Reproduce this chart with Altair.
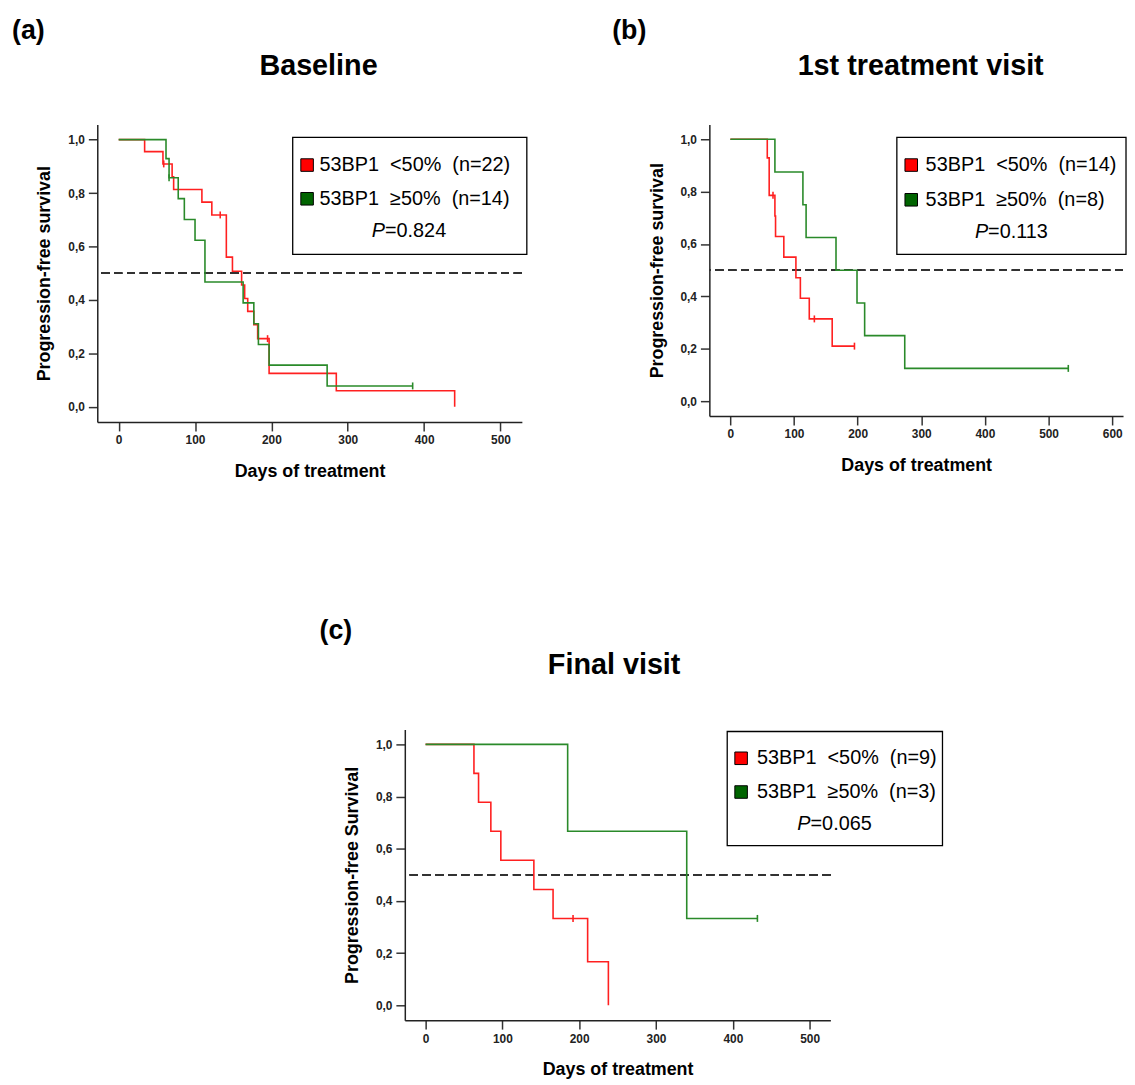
import altair as alt
import pandas as pd

FONT = "Liberation Sans"
LINE_RED = "#ff2020"
LINE_GREEN = "#2a8a2a"
SQ_RED = "#ff0000"
SQ_GREEN = "#006400"

# ---------------- data ----------------
# (a) Baseline
a_labels = ["53BP1\u00a0\u00a0<50%\u00a0\u00a0(n=22)", "53BP1\u00a0\u00a0\u226550%\u00a0\u00a0(n=14)"]
a_red_t = [0, 34, 58, 70, 72, 109, 122, 141, 149, 161, 165, 169, 177, 182, 197, 285, 440]
a_red_s = [1.0, 0.955, 0.909, 0.861, 0.813, 0.766, 0.718, 0.56, 0.507, 0.456, 0.405, 0.357, 0.307, 0.255, 0.125, 0.06, 0.0]
a_red_ct = [59, 133, 195]
a_red_cs = [0.909, 0.718, 0.255]
a_grn_t = [0, 62, 66, 78, 86, 100, 113, 163, 177, 183, 197, 273, 385]
a_grn_s = [1.0, 0.929, 0.857, 0.779, 0.701, 0.623, 0.467, 0.389, 0.311, 0.233, 0.156, 0.078, 0.078]
a_grn_ct = [66, 385]
a_grn_cs = [0.857, 0.078]
a_p = "=0.824"

# (b) 1st treatment visit
b_labels = ["53BP1\u00a0\u00a0<50%\u00a0\u00a0(n=14)", "53BP1\u00a0\u00a0\u226550%\u00a0\u00a0(n=8)"]
b_red_t = [0, 58, 61, 70, 71, 84, 103, 110, 124, 160, 195]
b_red_s = [1.0, 0.929, 0.786, 0.707, 0.629, 0.550, 0.471, 0.393, 0.314, 0.210, 0.210]
b_red_ct = [67, 132, 195]
b_red_cs = [0.786, 0.314, 0.210]
b_grn_t = [0, 70, 114, 119, 166, 199, 211, 274, 531]
b_grn_s = [1.0, 0.875, 0.75, 0.625, 0.5, 0.375, 0.25, 0.125, 0.125]
b_grn_ct = [531]
b_grn_cs = [0.125]
b_p = "=0.113"

# (c) Final visit
c_labels = ["53BP1\u00a0\u00a0<50%\u00a0\u00a0(n=9)", "53BP1\u00a0\u00a0\u226550%\u00a0\u00a0(n=3)"]
c_red_t = [0, 63, 69, 85, 98, 141, 166, 211, 238]
c_red_s = [1.0, 0.889, 0.778, 0.667, 0.556, 0.444, 0.333, 0.167, 0.0]
c_red_ct = [192]
c_red_cs = [0.333]
c_grn_t = [0, 185, 340, 432]
c_grn_s = [1.0, 0.667, 0.333, 0.333]
c_grn_ct = [432]
c_grn_cs = [0.333]
c_p = "=0.065"

Y_TICKS = [0.0, 0.2, 0.4, 0.6, 0.8, 1.0]
ONE = pd.DataFrame({"k": [0]})


def txt(text, x, y, size, weight="normal", style="normal", align="left", baseline="alphabetic"):
    return alt.Chart(ONE).mark_text(text=text, font=FONT, fontSize=size, fontWeight=weight,
                                    fontStyle=style, align=align, baseline=baseline,
                                    color="black").encode(x=alt.value(x), y=alt.value(y))


def legend_layers(labels, pval, box, sq_x, lab_x, rows, p_y, p_split):
    x0, x1, y0, y1 = box
    frame = alt.Chart(ONE).mark_rect(fill="white", stroke="black", strokeWidth=1.3).encode(
        x=alt.value(x0), x2=alt.value(x1), y=alt.value(y0), y2=alt.value(y1))
    out = [frame]
    for lab, colr, ry in zip(labels, [SQ_RED, SQ_GREEN], rows):
        out.append(alt.Chart(ONE).mark_square(size=160, filled=True, fill=colr, stroke="black",
                                              strokeWidth=1, opacity=1).encode(
            x=alt.value(sq_x), y=alt.value(ry)))
        out.append(txt(lab, lab_x, ry, 20, baseline="middle"))
    out.append(txt("P", p_split, p_y, 20, style="italic", align="right", baseline="middle"))
    out.append(txt(pval, p_split, p_y, 20, align="left", baseline="middle"))
    return out


def panel(labels, rt, rs, rct, rcs, gt, gs, gct, gcs, pval, xdom, xticks,
          ytitle, letter, title, w, h, leg, letter_pos, title_pos):
    curves = pd.DataFrame({
        "t": rt + gt,
        "s": rs + gs,
        "g": [labels[0]] * len(rt) + [labels[1]] * len(gt),
    })
    cens = pd.DataFrame({
        "t": rct + gct,
        "s": rcs + gcs,
        "g": [labels[0]] * len(rct) + [labels[1]] * len(gct),
    })
    x = alt.X("t:Q", scale=alt.Scale(domain=xdom, nice=False, zero=False),
              axis=alt.Axis(values=xticks, title="Days of treatment", format="d"))
    y = alt.Y("s:Q", scale=alt.Scale(domain=[-0.057, 1.057], nice=False, zero=False),
              axis=alt.Axis(values=Y_TICKS, title=ytitle,
                            labelExpr="replace(format(datum.value, '.1f'), '.', ',')"))
    col = alt.Color("g:N", scale=alt.Scale(domain=labels, range=[LINE_RED, LINE_GREEN]), legend=None)

    lines = alt.Chart(curves).mark_line(interpolate="step-after", strokeWidth=1.6).encode(
        x=x, y=y, color=col)
    ticks = alt.Chart(cens).mark_point(shape="M0,-1V1", filled=False, size=49, strokeWidth=1.6,
                                       opacity=1).encode(x=x, y=y, color=col)
    ref = alt.Chart(curves).mark_rule(color="#333333", strokeDash=[8, 5], strokeWidth=1.3).encode(
        y=alt.datum(0.5))
    let = txt(letter, letter_pos[0], letter_pos[1], 27, weight="bold")
    ttl = txt(title, title_pos[0], title_pos[1], 29, weight="bold", align="center")
    layers = [ref, lines, ticks] + legend_layers(labels, pval, **leg) + [let, ttl]
    return alt.layer(*layers).properties(width=w, height=h)


pa = panel(a_labels, a_red_t, a_red_s, a_red_ct, a_red_cs, a_grn_t, a_grn_s, a_grn_ct, a_grn_cs,
           a_p, [-28, 528], [0, 100, 200, 300, 400, 500], "Progression-free survival",
           "(a)", "Baseline", 428, 300,
           dict(box=(197, 433, 13, 131), sq_x=211.5, lab_x=224, rows=(41, 75), p_y=108, p_split=290),
           (-86, -86), (223, -50))
pb = panel(b_labels, b_red_t, b_red_s, b_red_ct, b_red_cs, b_grn_t, b_grn_s, b_grn_ct, b_grn_cs,
           b_p, [-33, 617], [0, 100, 200, 300, 400, 500, 600], "Progression-free survival",
           "(b)", "1st treatment visit", 417, 294,
           dict(box=(189, 420, 13, 131), sq_x=203.5, lab_x=218, rows=(41, 76), p_y=108.5, p_split=281),
           (-98, -86), (213, -50))
pc = panel(c_labels, c_red_t, c_red_s, c_red_ct, c_red_cs, c_grn_t, c_grn_s, c_grn_ct, c_grn_cs,
           c_p, [-27, 527], [0, 100, 200, 300, 400, 500], "Progression-free Survival",
           "(c)", "Final visit", 429, 293,
           dict(box=(325, 542, 2, 117), sq_x=339, lab_x=355, rows=(29, 63), p_y=95.5, p_split=409),
           (-86, -91), (211, -56))

spacer = alt.Chart(ONE).mark_point(opacity=0).encode(
    x=alt.value(0), y=alt.value(0)).properties(width=10, height=10)

RES = dict(color="independent", x="independent", y="independent")

row1 = alt.hconcat(pa, pb, spacing=85).resolve_scale(**RES)
row2 = alt.hconcat(spacer, pc, spacing=214).resolve_scale(**RES)

chart = alt.vconcat(row1, row2, spacing=138).resolve_scale(**RES).properties(
    padding={"left": 4, "top": 5, "right": 0, "bottom": 0}
).configure(background="white").configure_view(stroke=None).configure_axis(
    grid=False,
    domainColor="#222222", domainWidth=1.5,
    tickColor="#333333", tickWidth=1.5, tickSize=9,
    labelFont=FONT, labelFontSize=12, labelFontWeight="bold", labelColor="#222222",
    labelPadding=4,
    titleFont=FONT, titleFontSize=18, titleFontWeight="bold", titleColor="black",
).configure_axisX(titlePadding=17).configure_axisY(titlePadding=14)

chart.save("out.html", embed_options={"renderer": "svg", "actions": False})
